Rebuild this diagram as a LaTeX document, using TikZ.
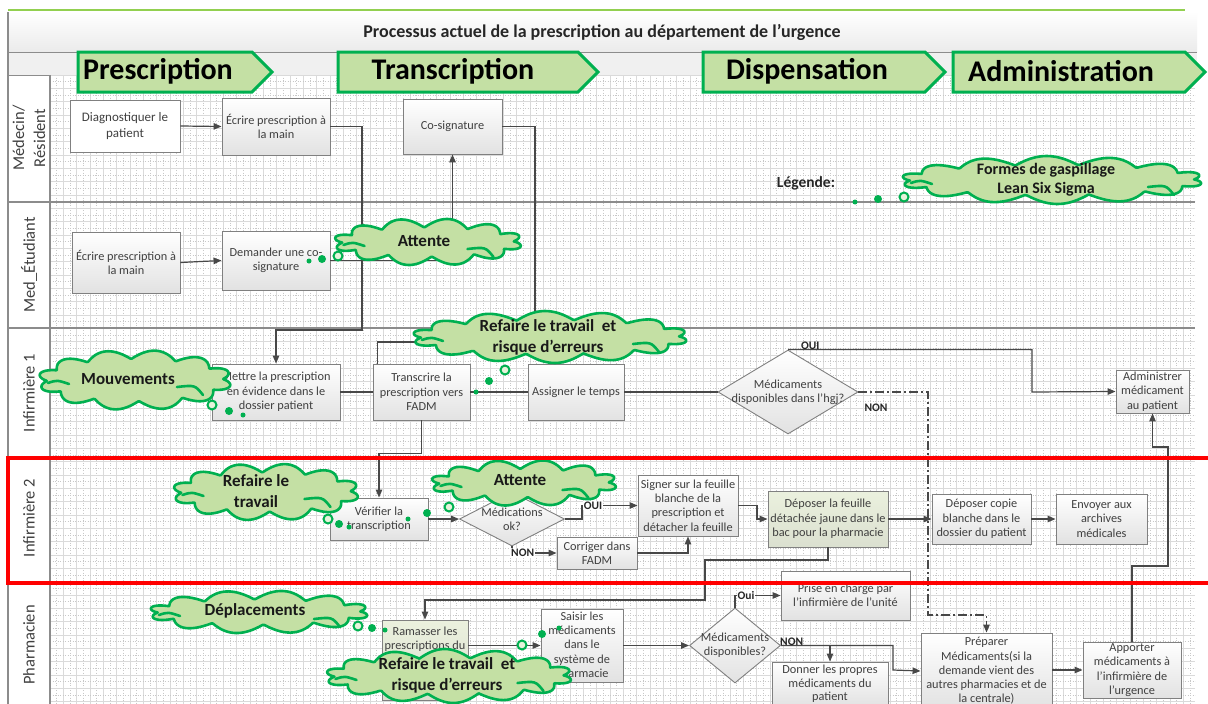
\documentclass[tikz,border=0pt]{standalone}
\usepackage{fontspec}
\setmainfont{Carlito}
\usetikzlibrary{shapes.symbols,shapes.geometric,arrows.meta,calc}

\definecolor{leaf}{RGB}{0,176,80}
\definecolor{leaffill}{RGB}{196,224,164}
\definecolor{topline}{RGB}{146,208,80}
\definecolor{boxline}{RGB}{128,128,128}
\definecolor{boxbot}{RGB}{226,226,226}
\definecolor{olivefill}{RGB}{235,241,222}
\definecolor{ink}{RGB}{64,64,64}
\definecolor{wire}{RGB}{72,72,72}
\definecolor{gridc}{RGB}{218,218,218}
\definecolor{lanec}{RGB}{140,140,140}
\definecolor{alert}{RGB}{255,0,0}

\tikzset{
  box/.style={draw=boxline, line width=0.9pt, top color=white, bottom color=boxbot,
    text=ink, font=\fontsize{12.3}{14.3}\selectfont, align=center, inner sep=1pt},
  plainbox/.style={box, top color=white, bottom color=white},
  olivebox/.style={box, top color=olivefill, bottom color=olivefill!85!gray},
  decision/.style={diamond, draw=boxline, line width=0.9pt, top color=white, bottom color=boxbot, inner sep=0pt},
  dtxt/.style={text=ink, font=\fontsize{12.3}{14.3}\selectfont, align=center},
  wire/.style={draw=wire, line width=1.2pt},
  arr/.style={wire, -{Triangle[length=8pt,width=6.5pt]}},
  dashdot/.style={wire, dash pattern=on 9pt off 3pt on 2pt off 3pt},
  lbl/.style={font=\fontsize{11.5}{13}\bfseries\selectfont, text=black!85, inner sep=1pt},
  onlbl/.style={lbl, fill=white},
  phase/.style={signal, signal to=east, signal pointer angle=90, draw=leaf, line width=3pt,
    fill=leaffill, inner sep=0pt},
  phtxt/.style={font=\fontsize{30}{34}\bfseries\selectfont, text=black},
  cloudline/.style={draw=leaf, line width=2.6pt, fill=leaffill, line join=round},
  cloudtxt/.style={font=\fontsize{17}{21}\bfseries\selectfont, text=black!90, align=center},
  curl/.style={draw=leaf, line width=2.6pt, line cap=round},
  ring/.style={circle, draw=leaf, line width=2pt, fill=leaffill!40, inner sep=0pt, minimum size=9pt},
  bigdot/.style={circle, fill=leaf, inner sep=0pt, minimum size=8pt},
  smalldot/.style={circle, fill=leaf, inner sep=0pt, minimum size=5pt},
  lanelbl/.style={rotate=90, align=center, font=\fontsize{16.5}{21}\selectfont, text=ink},
  gridmaj/.style={draw=gridc, line width=0.5pt},
  gridmin/.style={draw=gridc!80!gray, line width=0.5pt, dotted},
  laneline/.style={draw=lanec, line width=1.2pt},
}

% puffy outline of a waste cloud: #1 cx, #2 cy, #3 width, #4 height, #5 half the number of puffs
\newcommand\wasteoutline[5]{%
  \filldraw[cloudline] plot[domain=0:360, samples=361, variable=\t]
    ({#1+(#3/2-8+9*abs(sin(#5*\t+15)))*cos(\t)}, {#2+(#4/2-8+9*abs(sin(#5*\t+15)))*sin(\t)}) -- cycle;
  \draw[curl] (#1-#3/2+9,#2+3) .. controls (#1-#3/2+18,#2) .. (#1-#3/2+30,#2+4);
  \draw[curl] (#1+#3/2-54,#2+7) .. controls (#1+#3/2-36,#2+5) .. (#1+#3/2-28,#2+15);
}

\begin{document}
\begin{tikzpicture}[x=1pt,y=-1pt]
\useasboundingbox (0,0) rectangle (1208,704);
\clip (0,0) rectangle (1208,704);

% ---------- frame, title and phase band ----------
\fill[white] (0,0) rectangle (1208,704);
\shade[top color=white, bottom color=black!8] (8,12) rectangle (1197,52);
\fill[black!6] (8,52) rectangle (1197,75);
\draw[topline, line width=2.5pt] (8,10) -- (1185,10);
\draw[laneline, line width=0.8pt] (8,52) -- (1197,52);
\draw[laneline, line width=0.8pt] (8,75) -- (1197,75);
\draw[laneline] (8,12) -- (8,704);
\node[font=\fontsize{18}{21}\bfseries\selectfont, text=black!85] (title) at (602,32)
  {Processus actuel de la prescription au département de l’urgence};

% ---------- grid ----------
\begin{scope}
  \clip (50,75) rectangle (1195,704);
  \foreach \i in {0,...,86} {
    \draw[gridmaj] (50+13.333*\i,75) -- ++(0,629);
    \draw[gridmin] (56.667+13.333*\i,75) -- ++(0,629);
  }
  \foreach \j in {0,...,47} {
    \draw[gridmaj] (50,75+13.333*\j) -- ++(1145,0);
    \draw[gridmin] (50,81.667+13.333*\j) -- ++(1145,0);
  }
\end{scope}

% ---------- swimlanes ----------
\draw[laneline] (50,75) -- (50,704);
\foreach \y in {202,328,458,583} \draw[laneline] (8,\y) -- (1195,\y);
\node[lanelbl] (lane1) at (29,138) {Médecin/\\Résident};
\node[lanelbl] (lane2) at (29,265) {Med\_Étudiant};
\node[lanelbl] (lane3) at (29,393) {Infirmière 1};
\node[lanelbl] (lane4) at (29,518) {Infirmière 2};
\node[lanelbl] (lane5) at (29,645) {Pharmacien};

% ---------- phases ----------
\node[phase, minimum width=194, minimum height=40, label={[phtxt,xshift=-7pt,yshift=1pt]center:Prescription}] (p1) at (165,72) {};
\node[phase, minimum width=260, minimum height=40, label={[phtxt,xshift=-5pt,yshift=1pt]center:Transcription}] (p2) at (458,72) {};
\node[phase, minimum width=242, minimum height=40, label={[phtxt,xshift=-7pt,yshift=1pt]center:Dispensation}] (p3) at (814,72) {};
\node[phase, minimum width=252, minimum height=40, label={[phtxt,xshift=-8pt,yshift=1pt]center:Administration}] (p4) at (1069,72) {};

% ---------- steps ----------
\node[plainbox, minimum width=110, minimum height=52, font=\fontsize{13}{15.5}\selectfont] (n1) at (125,126) {Diagnostiquer le\\patient};
\node[box, minimum width=108, minimum height=57] (n2) at (276,126.5) {Écrire prescription à\\la main};
\node[box, minimum width=99, minimum height=55] (n3) at (452.5,126.5) {Co-signature};
\node[box, minimum width=108, minimum height=61] (n4) at (126,262.5) {Écrire prescription à\\la main};
\node[box, minimum width=108, minimum height=59] (n5) at (276,260.5) {Demander une co-\\signature};
\node[box, minimum width=128, minimum height=56] (n6) at (276,392) {Mettre la prescription\\en évidence dans le\\dossier patient};
\node[box, minimum width=97, minimum height=56] (n7) at (421.5,392) {Transcrire la\\prescription vers\\FADM};
\node[box, minimum width=96, minimum height=56] (n8) at (576,392) {Assigner le temps};
\node[decision, minimum width=140, minimum height=84,
  label={[dtxt]center:Médicaments\\disponibles dans l’hgj?}] (d1) at (788,392) {};
\node[box, minimum width=73, minimum height=43] (n9) at (1152.5,391.5) {Administrer\\médicament\\au patient};

\node[box, minimum width=98, minimum height=42] (n10) at (379,519) {Vérifier la\\transcription};
\node[decision, minimum width=105, minimum height=54,
  label={[dtxt]center:Médications\\ok?}] (d2) at (512,519) {};
\node[box, minimum width=100, minimum height=61] (n11) at (688,505.5) {Signer sur la feuille\\blanche de la\\prescription et\\détacher la feuille};
\node[box, minimum width=80, minimum height=32] (n12) at (597,553) {Corriger dans\\FADM};
\node[olivebox, minimum width=120, minimum height=56] (n13) at (828,519) {Déposer la feuille\\détachée jaune dans le\\bac pour la pharmacie};
\node[box, minimum width=99, minimum height=50] (n14) at (981.5,519) {Déposer copie\\blanche dans le\\dossier du patient};
\node[box, minimum width=91, minimum height=50] (n15) at (1101.5,519) {Envoyer aux\\archives\\médicales};

\node[olivebox, minimum width=86, minimum height=80] (n16) at (425,660) {};
\node[dtxt, anchor=north] (n16t) at ($(n16.north)+(0,4)$) {Ramasser les\\prescriptions du};
\node[box, minimum width=82, minimum height=73] (n17) at (582,645.5) {Saisir les\\médicaments\\dans le\\système de\\pharmacie};
\node[decision, minimum width=91, minimum height=75,
  label={[dtxt]center:Médicaments\\disponibles?}] (d3) at (735,645.5) {};
\node[box, minimum width=129, minimum height=49] (n18) at (845.5,595.5) {Prise en charge par\\l’infirmière de l’unité};
\node[box, minimum width=116, minimum height=44, font=\fontsize{12.3}{13.5}\selectfont] (n19) at (830,684) {Donner les propres\\médicaments du\\patient};
\node[box, minimum width=131, minimum height=76] (n20) at (986.5,671) {Préparer\\Médicaments(si la\\demande vient des\\autres pharmacies et de\\la centrale)};
\node[box, minimum width=98, minimum height=56] (n21) at (1132,670) {Apporter\\médicaments à\\l’infirmière de\\l’urgence};

% ---------- flows ----------
\draw[arr] (n1.east) -- (n2.west);
\draw[arr] (n2.east) -| (362,330) -| (n6.north);
\draw[arr] (n4.east) -- (n5.west);
\draw[arr] (n5.east) -| (n3.south);
\draw[wire] (n3.east) -| (535,342) -| ($(n7.north west)+(5,0)$);
\draw[wire] (n6.east) -- (n7.west);
\draw[wire] (n7.east) -- (n8.west);
\draw[wire] (n8.east) -- (d1.west);
\draw[arr] (d1.north) -| (1032,392) -- (n9.west);
\node[lbl, anchor=south west] (oui1) at (800,351) {OUI};
\draw[dashdot] (d1.east) -| (928,615) -| ($(n20.north)+(0,-12)$);
\draw[arr] ($(n20.north)+(0,-12)$) -- (n20.north);
\node[lbl] (non1) at (876,408) {NON};

\draw[arr] (n7.south) -- ++(0,33) -| (n10.north);
\draw[arr] (n10.east) -- (d2.west);
\draw[arr] (d2.east) -| (582,505.5) -- node[onlbl, pos=0.2] (oui2) {OUI} (n11.west);
\draw[arr] (d2.south) |- node[onlbl, pos=0.62] (non2) {NON} (n12.west);
\draw[arr] (n12.east) -| (n11.south);
\draw[arr] (n11.east) -| (757,519) -- (n13.west);
\draw[arr] (n13.east) -- (n14.west);
\draw[arr] (n14.east) -- (n15.west);
\draw[arr] (n13.south) -- (828,560) -- (705,560) -- (705,600) -| (n16.north);

\draw[arr] (n16.east |- n17.west) -- (n17.west);
\draw[arr] (n17.east) -- (d3.west);
\draw[arr] (d3.north) |- node[onlbl, pos=0.62] (oui3) {Oui} (n18.west);
\draw[arr] (d3.east) -| (893,670) -- (n20.west);
\node[lbl, anchor=south west] (non3) at (779,647) {NON};
\draw[arr] (n19.north |- d3.east) -- (n19.north);
\draw[arr] (n20.east |- n21.west) -- (n21.west);
\draw[arr] (n21.north) |- (1168,566) |- (1152.5,447) -- (n9.south);

% ---------- waste clouds ----------
\wasteoutline{428}{242}{187}{45}{6}
\node[cloudtxt] (c1) at (424,241) {Attente};
\wasteoutline{135}{380}{192}{58}{6}
\node[cloudtxt] (c2) at (128,379) {Mouvements};
\wasteoutline{550}{337}{274}{50}{7}
\node[cloudtxt] (c3) at (548,337) {Refaire le travail~ et\\risque d’erreurs};
\wasteoutline{266}{492}{185}{55}{6}
\node[cloudtxt] (c4) at (256,491) {Refaire le\\travail};
\wasteoutline{524}{483}{185}{44}{6}
\node[cloudtxt] (c5) at (520,480) {Attente};
\wasteoutline{259}{612}{218}{41}{6}
\node[cloudtxt] (c6) at (255,611) {Déplacements};
\wasteoutline{449}{676}{245}{52}{7}
\node[cloudtxt] (c7) at (447,675) {Refaire le travail~ et\\risque d’erreurs};
\wasteoutline{1052}{180}{300}{46}{7}
\node[cloudtxt, font=\fontsize{16}{19}\bfseries\selectfont] (c8) at (1046,180) {Formes de gaspillage\\Lean Six Sigma};
\node[font=\fontsize{15.5}{18}\bfseries\selectfont, text=black!85] (legend) at (806,183) {Légende:};

% ---------- thought-bubble tails ----------
\node[smalldot] (t1a) at (309,261) {}; \node[bigdot] (t1b) at (322,259) {}; \node[ring] (t1c) at (338,256) {};
\node[ring] (t2a) at (212,405) {}; \node[bigdot] (t2b) at (229,411) {}; \node[smalldot] (t2c) at (243,415) {};
\node[smalldot] (t3a) at (476,392) {}; \node[bigdot] (t3b) at (489,381) {}; \node[ring] (t3c) at (505,370) {};
\node[ring] (t4a) at (328,519) {}; \node[bigdot] (t4b) at (339,524) {}; \node[smalldot] (t4c) at (349,527) {};
\node[smalldot] (t5a) at (408,519) {}; \node[bigdot] (t5b) at (427,513) {}; \node[ring] (t5c) at (449,507) {};
\node[ring] (t6a) at (358,626) {}; \node[bigdot] (t6b) at (372,628) {}; \node[smalldot] (t6c) at (385,630) {};
\node[ring] (t7a) at (522,645) {}; \node[bigdot] (t7b) at (542,634) {}; \node[smalldot] (t7c) at (559,628) {};
\node[smalldot] (t8a) at (855,202) {}; \node[bigdot] (t8b) at (878,199) {}; \node[ring] (t8c) at (904,197) {};

% ---------- highlighted lane ----------
\draw[alert, line width=3.5pt] (8,458) rectangle (1212,583);
\end{tikzpicture}
\end{document}
